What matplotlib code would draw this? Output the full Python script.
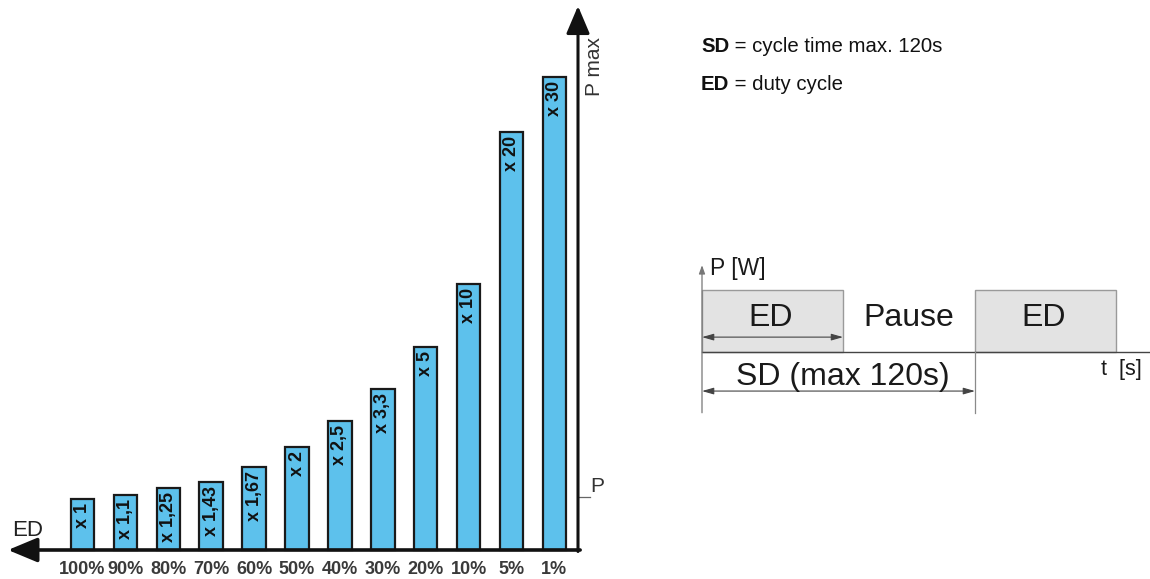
import matplotlib
matplotlib.use("Agg")
import matplotlib.pyplot as plt
from matplotlib.patches import Rectangle

plt.rcParams['font.family'] = ['Liberation Sans', 'DejaVu Sans']

# ---- data ----
ed_labels = ["100%", "90%", "80%", "70%", "60%", "50%", "40%", "30%", "20%", "10%", "5%", "1%"]
factor_labels = ["x 1", "x 1,1", "x 1,25", "x 1,43", "x 1,67", "x 2", "x 2,5", "x 3,3", "x 5", "x 10", "x 20", "x 30"]
bar_heights = [51, 55, 62, 68, 83, 103, 129, 161, 203, 266, 418, 473]   # drawn height (schematic)
p_nominal_level = 53

# duty-cycle diagram (seconds / relative power)
ed_time = 62
sd_time = 120
t_end = 197
power_on = 1.0

BAR_BLUE = '#5DC1EC'

fig = plt.figure(figsize=(11.5, 5.79), dpi=100)

# ---------------- bar chart ----------------
ax1 = fig.add_axes([0, 0, 600 / 1150, 1])
step = 42.9
ax1.set_xlim(-82.5 / step, (600 - 82.5) / step)
ax1.set_ylim(-29, 550)
ax1.axis('off')

xs = list(range(len(bar_heights)))
ax1.bar(xs, bar_heights, width=23.5 / step, color=BAR_BLUE, edgecolor='#1a1a1a',
        linewidth=1.6, zorder=2)

for x, h, lbl in zip(xs, bar_heights, factor_labels):
    ax1.annotate(lbl, (x, h), xytext=(0, -3), textcoords='offset points',
                 rotation=90, ha='center', va='top', fontsize=13,
                 fontweight='bold', color='#111111', zorder=3)

for x, lbl in zip(xs, ed_labels):
    ax1.text(x, -20, lbl, ha='center', va='center', fontsize=13,
             fontweight='bold', color='#3a3a3a')

axis_x = (578 - 82.5) / step
left_tip = (8 - 82.5) / step
# horizontal axis with arrow to the left
ax1.annotate('', xy=(left_tip, 0), xytext=(axis_x + 0.05, 0),
             arrowprops=dict(arrowstyle='-|>,head_length=1.8,head_width=0.75',
                             mutation_scale=10, lw=2.6, color='#111111',
                             shrinkA=0, shrinkB=0), zorder=4)
# vertical axis with arrow up
ax1.annotate('', xy=(axis_x, 544), xytext=(axis_x, -1.5),
             arrowprops=dict(arrowstyle='-|>,head_length=1.7,head_width=0.72',
                             mutation_scale=10, lw=2.2, color='#111111',
                             shrinkA=0, shrinkB=0), zorder=4)
# P tick
ax1.plot([axis_x, axis_x + 12 / step], [p_nominal_level, p_nominal_level],
         color='#666666', lw=0.9, clip_on=False)
ax1.text(axis_x + 12 / step, p_nominal_level + 10, 'P', ha='left', va='center',
         fontsize=15, color='#333333')
ax1.text((595 - 82.5) / step, 550 - 66, 'P max', rotation=90, ha='center',
         va='center', fontsize=15, color='#333333')
ax1.text((28 - 82.5) / step, 20, 'ED', ha='center', va='center', fontsize=16,
         color='#222222')

# ---------------- definitions text ----------------
ax_dummy = fig.add_axes([0, 0, 1, 1], facecolor='none')
ax_dummy.axis('off')
t1 = fig.text(701 / 1150, 1 - 46 / 579, 'SD', fontsize=14.7, fontweight='bold',
              ha='left', va='center', color='#111111')
ax_dummy.annotate(' = cycle time max. 120s', xy=(1, 0.5), xycoords=t1,
                  ha='left', va='center', fontsize=14.7, color='#111111')
t2 = fig.text(701 / 1150, 1 - 84 / 579, 'ED', fontsize=14.7, fontweight='bold',
              ha='left', va='center', color='#111111')
ax_dummy.annotate(' = duty cycle', xy=(1, 0.5), xycoords=t2,
                  ha='left', va='center', fontsize=14.7, color='#111111')

# ---------------- duty cycle diagram ----------------
pxs = 273 / sd_time     # pixels per second
pyu = 62                # pixels per power unit
ax2 = fig.add_axes([680 / 1150, (579 - 430) / 579, 470 / 1150, 190 / 579])
ax2.set_xlim(-22 / pxs, 448 / pxs)
ax2.set_ylim(-(430 - 352) / pyu, (352 - 240) / pyu)
ax2.axis('off')

for start in (0, sd_time):
    ax2.add_patch(Rectangle((start, 0), ed_time, power_on, facecolor='#e3e3e3',
                            edgecolor='#9a9a9a', lw=1.0, zorder=1))

ax2.plot([0, t_end], [0, 0], color='#444444', lw=1.0, zorder=2, clip_on=False)
ax2.plot([sd_time, sd_time], [0, -0.98], color='#8a8a8a', lw=0.9, zorder=2)
ax2.annotate('', xy=(0, 1.40), xytext=(0, -0.98),
             arrowprops=dict(arrowstyle='-|>,head_length=0.5,head_width=0.18',
                             mutation_scale=10, lw=0.9, color='#777777',
                             shrinkA=0, shrinkB=0), zorder=3)

arrow_kw = dict(arrowstyle='<|-|>,head_length=0.7,head_width=0.2',
                mutation_scale=10, lw=0.8, color='#444444', shrinkA=0, shrinkB=0)
ax2.annotate('', xy=(ed_time, 0.24), xytext=(0, 0.24), arrowprops=arrow_kw, zorder=3)
ax2.annotate('', xy=(sd_time, -0.63), xytext=(0, -0.63), arrowprops=arrow_kw, zorder=3)

txt_kw = dict(ha='center', va='center', fontsize=23, color='#1a1a1a', zorder=4)
ax2.text(ed_time / 2 - 1, 0.55, 'ED', **txt_kw)
ax2.text(91, 0.55, 'Pause', **txt_kw)
ax2.text(sd_time + ed_time / 2 - 1, 0.55, 'ED', **txt_kw)
ax2.text(sd_time / 2 + 2, -0.40, 'SD (max 120s)', **txt_kw)
ax2.text(3.5, 1.35, 'P [W]', ha='left', va='center', fontsize=16.5, color='#1a1a1a')
ax2.text(175.5, -0.29, 't  [s]', ha='left', va='center', fontsize=15.5, color='#1a1a1a')

fig.savefig('out.png', dpi=100)
